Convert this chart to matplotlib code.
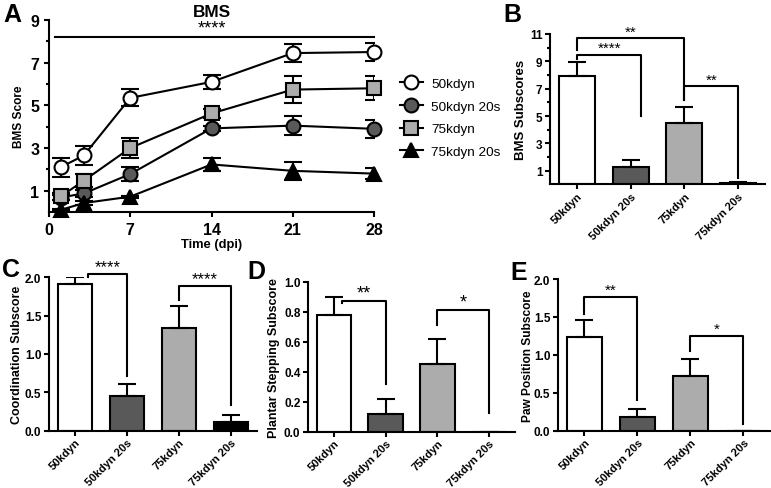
import matplotlib
matplotlib.use('Agg')
import matplotlib.pyplot as plt
import numpy as np

plt.rcParams['font.family'] = ['Liberation Sans', 'DejaVu Sans']
plt.rcParams['font.weight'] = 'bold'
plt.rcParams['axes.labelweight'] = 'bold'
plt.rcParams['axes.linewidth'] = 1.5

# --- data ---
groups = ['50kdyn', '50kdyn 20s', '75kdyn', '75kdyn 20s']
bar_colors = ['white', '#595959', '#acacac', 'black']

days = [1, 3, 7, 14, 21, 28]
bms_50 = [2.1, 2.65, 5.35, 6.1, 7.45, 7.5]
bms_50_err = [0.44, 0.45, 0.4, 0.34, 0.43, 0.4]
bms_50_20s = [0.68, 0.87, 1.78, 3.92, 4.05, 3.9]
bms_50_20s_err = [0.1, 0.15, 0.33, 0.1, 0.45, 0.41]
bms_75 = [0.73, 1.47, 3.0, 4.62, 5.74, 5.8]
bms_75_err = [0.15, 0.3, 0.48, 0.2, 0.65, 0.57]
bms_75_20s = [0.1, 0.42, 0.72, 2.23, 1.93, 1.8]
bms_75_20s_err = [0.05, 0.08, 0.05, 0.3, 0.43, 0.27]

sub_bms = [7.95, 1.25, 4.48, 0.1]
sub_bms_err = [0.98, 0.53, 1.2, 0.06]
coord = [1.91, 0.455, 1.34, 0.11]
coord_err = [0.09, 0.16, 0.28, 0.095]
plantar = [0.778, 0.115, 0.45, 0.0]
plantar_err = [0.12, 0.105, 0.17, 0.0]
paw = [1.23, 0.176, 0.725, 0.0]
paw_err = [0.23, 0.11, 0.22, 0.0]

# significance brackets: (left bar, right bar, top, left end, right end, label)
brackets_b = [(0, 1.2, 9.47, 9.15, 5.0, '****'),
              (0, 2, 10.67, 9.8, 6.2, '**'),
              (2, 3, 7.17, 6.2, 0.47, '**')]
brackets_c = [(0.25, 1, 2.04, 2.0, 0.71, '****'),
              (2, 3, 1.88, 1.71, 0.33, '****')]
brackets_d = [(0.15, 1, 0.87, 0.855, 0.32, '**'),
              (2, 3, 0.81, 0.71, 0.125, '*')]
brackets_e = [(0, 1, 1.76, 1.54, 0.4, '**'),
              (2, 3, 1.25, 1.05, 0.09, '*')]

fig = plt.figure(figsize=(7.71, 4.89), dpi=100)


def style_axes(ax, tick_size):
    for s in ['top', 'right']:
        ax.spines[s].set_visible(False)
    ax.tick_params(width=1.5, length=3.5, labelsize=tick_size)
    ax.tick_params(which='minor', width=1.5, length=2.2)
    for lab in ax.get_xticklabels() + ax.get_yticklabels():
        lab.set_fontweight('bold')


def bar_panel(rect, values, errs, ymax, yticks, yfmt, ylabel, ylab_size,
              brackets, star_size, ylab_x, minor=None):
    ax = fig.add_axes(rect)
    x = np.arange(len(groups))
    ax.bar(x, values, width=0.67, color=bar_colors, edgecolor='black',
           linewidth=1.5, zorder=2)
    ax.errorbar(x, values, yerr=[np.zeros(len(values)), errs], fmt='none',
                ecolor='black', elinewidth=1.5, capsize=6.5, capthick=1.5,
                zorder=3)
    ax.set_xlim(-0.5, 3.5)
    ax.set_ylim(0, ymax)
    ax.set_yticks(yticks)
    ax.set_yticklabels([yfmt.format(t) for t in yticks])
    if minor is not None:
        ax.set_yticks(minor, minor=True)
    ax.set_xticks(x)
    ax.set_xticklabels(groups, rotation=45, ha='right',
                       rotation_mode='anchor')
    ax.set_ylabel(ylabel, fontsize=ylab_size)
    style_axes(ax, 8.5)
    ax.tick_params(axis='x', pad=1, labelsize=8)
    ax.tick_params(axis='y', pad=2)
    ax.yaxis.set_label_coords(ylab_x, 0.5)
    for xl, xr, yt, yl, yr, lab in brackets:
        ax.plot([xl, xl, xr, xr], [yl, yt, yt, yr], color='black',
                linewidth=1.5, clip_on=False, zorder=4)
        ax.text((xl + xr) / 2, yt, lab, ha='center', va='bottom',
                fontsize=star_size, fontweight='normal')
    return ax


# --- A: BMS time course ---
axA = fig.add_axes([0.0636, 0.5644, 0.4215, 0.3926])
series = [
    (bms_50, bms_50_err, 'o', 'white', '50kdyn'),
    (bms_50_20s, bms_50_20s_err, 'o', '#595959', '50kdyn 20s'),
    (bms_75, bms_75_err, 's', '#acacac', '75kdyn'),
    (bms_75_20s, bms_75_20s_err, '^', 'black', '75kdyn 20s'),
]
for vals, errs, mk, fc, lab in series:
    axA.errorbar(days, vals, yerr=errs, fmt='none', ecolor='black',
                 elinewidth=1.5, capsize=6.5, capthick=1.5, zorder=2)
    axA.plot(days, vals, color='black', linewidth=1.5, marker=mk,
             markersize=10 if mk != '^' else 9.5, markerfacecolor=fc,
             markeredgecolor='black', markeredgewidth=1.5, label=lab,
             zorder=3, clip_on=False)
axA.set_xlim(0, 28)
axA.set_ylim(0, 9)
axA.set_xticks([0, 7, 14, 21, 28])
axA.set_yticks([1, 3, 5, 7, 9])
axA.set_yticks([2, 4, 6, 8], minor=True)
axA.set_xlabel('Time (dpi)', fontsize=9.3, labelpad=1)
axA.set_ylabel('BMS Score', fontsize=8.6, labelpad=4)
axA.set_title('BMS', fontsize=12.4, fontweight='bold', pad=3)
style_axes(axA, 11.5)
axA.plot([0.5, 28], [8.22, 8.22], color='black', linewidth=1.5, clip_on=False)
axA.text(14, 8.25, '****', ha='center', va='bottom', fontsize=13,
         fontweight='normal')
fig.legend(loc='upper left', bbox_to_anchor=(0.503, 0.864), frameon=False,
           prop={'size': 9.7, 'weight': 'normal'}, handlelength=1.7,
           handletextpad=0.6, labelspacing=0.76)

# --- B-E: subscores ---
bar_panel([0.7134, 0.6209, 0.2789, 0.3076], sub_bms, sub_bms_err, 11,
          [1, 3, 5, 7, 9, 11], '{:d}', 'BMS Subscores', 9.5, brackets_b, 11,
          ylab_x=-0.105, minor=[2, 4, 6, 8, 10])
bar_panel([0.0636, 0.1172, 0.2698, 0.3137], coord, coord_err, 2.0,
          [0.0, 0.5, 1.0, 1.5, 2.0], '{:.1f}', 'Coordination Subscore', 9,
          brackets_c, 12, ylab_x=-0.125)
bar_panel([0.3995, 0.1151, 0.2685, 0.3067], plantar, plantar_err, 1.0,
          [0.0, 0.2, 0.4, 0.6, 0.8, 1.0], '{:.1f}',
          'Plantar Stepping Subscore', 9, brackets_d, 13, ylab_x=-0.135)
bar_panel([0.7237, 0.1172, 0.2750, 0.3102], paw, paw_err, 2.0,
          [0.0, 0.5, 1.0, 1.5, 2.0], '{:.1f}', 'Paw Position Subscore', 8.6,
          brackets_e, 11, ylab_x=-0.113)

# panel letters
for lab, px, py in [('A', 3, 3), ('B', 503, 3), ('C', 2, 258),
                    ('D', 247, 260), ('E', 510, 261)]:
    fig.text(px / 771, 1 - py / 489, lab, fontsize=18, fontweight='bold',
             ha='left', va='top')

fig.savefig('out.png', dpi=100)
